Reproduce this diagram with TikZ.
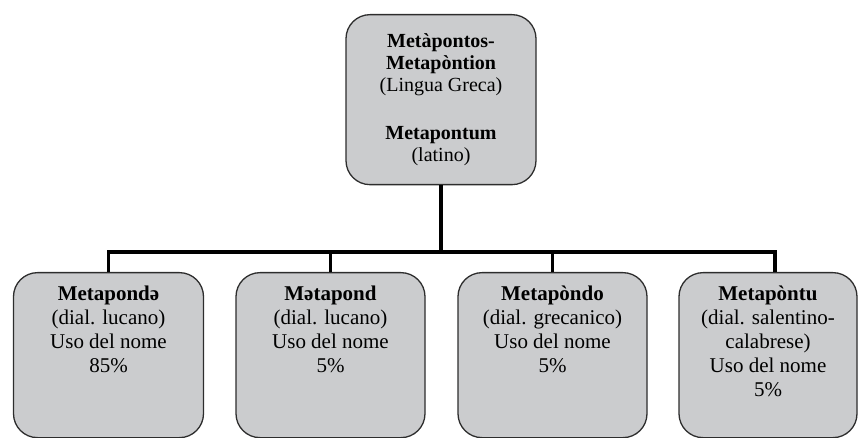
\documentclass[tikz,border=0pt]{standalone}
\usepackage{fontspec}
\setmainfont{Liberation Serif}
\usetikzlibrary{positioning}
\definecolor{boxgray}{RGB}{203,204,206}
\definecolor{edgegray}{RGB}{45,45,45}
\tikzset{
	namebox/.style={draw=edgegray, line width=1.3pt, fill=boxgray, rounded corners=24pt, anchor=north, inner xsep=0pt, inner ysep=13pt},
	link/.style={line width=3.5pt, black},
}
\newcommand{\leaftext}[2]{\begin{minipage}[t][139pt][t]{#1}\centering\fontsize{21}{24}\selectfont #2\end{minipage}}

\begin{document}
\begin{tikzpicture}[x=1pt, y=-1pt]
	\useasboundingbox (0,0) rectangle (862,438);
	
	\node[namebox, minimum width=190pt, minimum height=170pt, align=center, font=\fontsize{20}{22}\selectfont] (meta) at (441,14)
		{\textbf{Metàpontos-}\\ \textbf{Metapòntion}\\ (Lingua Greca)\\[26pt] \textbf{Metapontum}\\ (latino)};
	
	\node[namebox] (lucano) at (108.5,272) {\leaftext{190pt}{\textbf{Metapondə}\\ (dial. lucano)\\ Uso del nome\\ 85\%}};
	\node[namebox] (lucanob) at (330.5,272) {\leaftext{189pt}{\textbf{Mətapond}\\ (dial. lucano)\\ Uso del nome\\ 5\%}};
	\node[namebox] (grecanico) at (552.5,272) {\leaftext{189pt}{\textbf{Metapòndo}\\ (dial. grecanico)\\ Uso del nome\\ 5\%}};
	\node[namebox] (calabrese) at (768,272) {\leaftext{178pt}{\textbf{Metapòntu}\\ (dial. salentino-\\ calabrese)\\ Uso del nome\\ 5\%}};
	
	\coordinate (bar) at (0,252);
	\coordinate (calabrese top) at ([xshift=7pt]calabrese.north);
	\draw[link] (meta.south) -- (meta.south |- bar);
	\draw[link] (lucano.north) -- (lucano.north |- bar) -- (calabrese top |- bar) -- (calabrese top);
	\foreach \n in {lucanob, grecanico}
		\draw[link] (\n.north) -- (\n.north |- bar);
\end{tikzpicture}
\end{document}
